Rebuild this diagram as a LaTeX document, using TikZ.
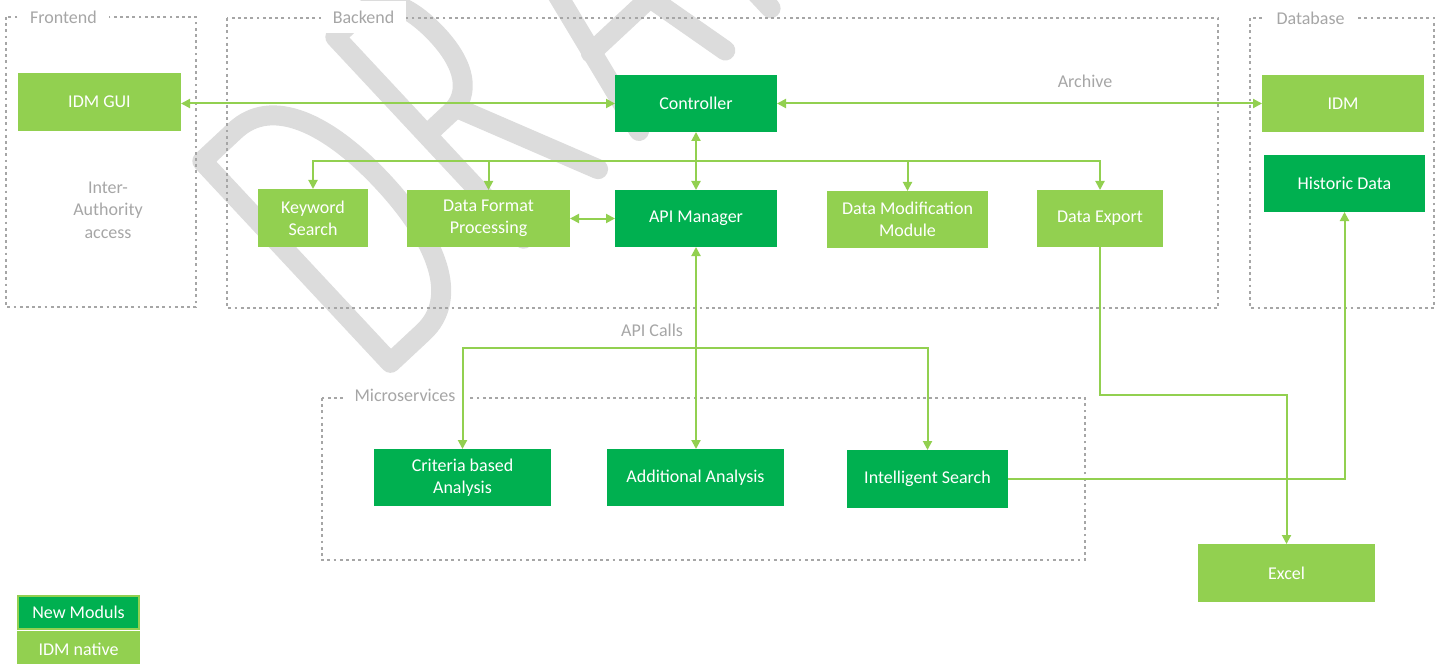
\documentclass[tikz,border=0pt]{standalone}
\usepackage{fontspec}
\setmainfont{Carlito}
\usetikzlibrary{arrows.meta}
\definecolor{lgreen}{HTML}{92D050}
\definecolor{dgreen}{HTML}{00B050}
\definecolor{framegray}{HTML}{A6A6A6}
\definecolor{lblgray}{HTML}{A6A6A6}
\definecolor{wmark}{HTML}{DCDCDC}
\begin{document}
\begin{tikzpicture}[x=0.5pt,y=-0.5pt,
  box/.style={inner sep=0pt, outer sep=0pt, align=center, text=white, font=\fontsize{9}{11}\selectfont},
  nativebox/.style={box, fill=lgreen},
  newbox/.style={box, fill=dgreen},
  conn/.style={draw=lgreen, line width=1pt},
  arr/.style={conn, -{Triangle[length=4.5pt,width=4.5pt]}},
  biarr/.style={conn, {Triangle[length=4.5pt,width=4.5pt]}-{Triangle[length=4.5pt,width=4.5pt]}},
  grp/.style={draw=framegray, line width=1.3pt, dash pattern=on 1.4pt off 1.7pt},
  grplabel/.style={fill=white, text=lblgray, inner xsep=6pt, inner ysep=5pt, font=\fontsize{9}{11}\selectfont},
  notetext/.style={text=lblgray, align=center, inner sep=0pt, font=\fontsize{9}{11.25}\selectfont},
  wm/.style={draw=wmark, line width=10pt, line cap=round, line join=round}
]
\useasboundingbox (0,0) rectangle (1443,663);

% watermark
\begin{scope}
\clip (0,0) rectangle (1443,663);
\begin{scope}[shift={(390,377)}, x={(0.3655pt,0.341pt)}, y={(-0.341pt,0.3655pt)}]
\draw[wm] (10,10) -- (10,286) -- (55,286) .. controls (105,286) and (128,228) .. (128,148) .. controls (128,68) and (105,10) .. (55,10) -- cycle;
\draw[wm] (192,10) -- (192,286) -- (228,286) .. controls (256,286) and (268,258) .. (268,218) .. controls (268,176) and (252,152) .. (225,152) -- (192,152);
\draw[wm] (232,152) -- (294,10);
\draw[wm] (350,10) -- (409,286) -- (468,10);
\draw[wm] (368,100) -- (450,100);
\draw[wm] (530,10) -- (530,286) -- (610,286);
\draw[wm] (530,150) -- (595,150);
\draw[wm] (640,286) -- (760,286);
\draw[wm] (700,286) -- (700,10);
\end{scope}
\end{scope}

% groups
\draw[grp] (6,17) rectangle (196,307);
\draw[grp] (227,18) rectangle (1218,308);
\draw[grp] (1250,18) rectangle (1434,308);
\draw[grp] (322,398) rectangle (1085,560);
\node[grplabel] (lfront) at (63.5,17) {Frontend};
\node[grplabel] (lback) at (363.5,17) {Backend};
\node[grplabel] (ldb) at (1310.5,18) {Database};
\node[grplabel] (lms) at (405,395) {Microservices};

% nodes
\node[nativebox, minimum width=81.5pt, minimum height=29pt] (gui) at (99.5,102) {IDM GUI};
\node[newbox, minimum width=81pt, minimum height=28.5pt] (ctrl) at (696,103.5) {Controller};
\node[nativebox, minimum width=81pt, minimum height=28.5pt] (idm) at (1343,103.5) {IDM};
\node[newbox, minimum width=80.5pt, minimum height=28.5pt] (hist) at (1344.5,183.5) {Historic Data};
\node[nativebox, minimum width=55pt, minimum height=29pt] (kw) at (313,218) {Keyword\\Search};
\node[nativebox, minimum width=81.5pt, minimum height=28.5pt] (dfp) at (488.5,218.5) {Data Format\\Processing};
\node[newbox, minimum width=81pt, minimum height=28.5pt] (api) at (696,218.5) {API Manager};
\node[nativebox, minimum width=80.5pt, minimum height=28.5pt] (dmm) at (907.5,219.5) {Data Modification\\Module};
\node[nativebox, minimum width=63pt, minimum height=28.5pt] (dexp) at (1100,218.5) {Data Export};
\node[newbox, minimum width=88.5pt, minimum height=28.5pt] (crit) at (462.5,477.5) {Criteria based\\Analysis};
\node[newbox, minimum width=88.5pt, minimum height=28.5pt] (add) at (695.5,477.5) {Additional Analysis};
\node[newbox, minimum width=80.5pt, minimum height=29pt] (isearch) at (927.5,479) {Intelligent Search};
\node[nativebox, minimum width=88.5pt, minimum height=29pt] (excel) at (1286.5,573) {Excel};

% legend
\node[newbox, draw=lgreen, line width=1pt, minimum width=60.5pt, minimum height=16.5pt] (lgnew) at (78.5,612.5) {New Moduls};
\node[nativebox, minimum width=61.5pt, minimum height=18pt] (lgnative) at (78.5,649) {IDM native};

% texts
\node[notetext] (inter) at (108,210) {Inter-\\Authority\\access};
\node[notetext] (archive) at (1085,81) {Archive};
\node[notetext] (apicalls) at (652,330) {API Calls};

% connectors
\coordinate (tree) at (696,161);
\coordinate (branch) at (696,348);
\coordinate (exmid) at (1200,395);
\draw[biarr] (gui.east |- ctrl.west) -- (ctrl.west);
\draw[biarr] (ctrl.east) -- (idm.west);
\draw[biarr] (ctrl.south) -- (api.north);
\draw[arr] (tree) -| (kw.north);
\draw[arr] (tree) -| (dfp.north);
\draw[arr] (tree) -| (dmm.north);
\draw[arr] (tree) -| (dexp.north);
\draw[biarr] (dfp.east) -- (api.west);
\draw[biarr] (api.south) -- (api.south |- add.north);
\draw[arr] (branch) -| (crit.north);
\draw[arr] (branch) -| (isearch.north);
\draw[arr] (dexp.south) -- (dexp.south |- exmid) -| (excel.north);
\draw[arr] (isearch.east) -| (hist.south);
\end{tikzpicture}
\end{document}
